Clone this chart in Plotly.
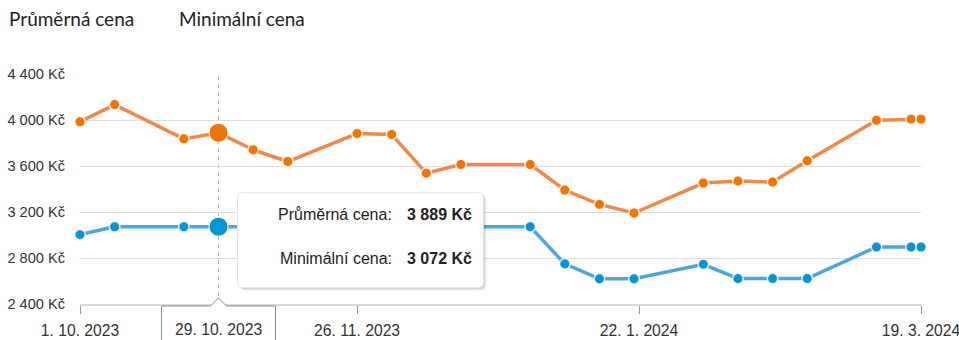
import plotly.graph_objects as go
from datetime import date

# Weekly price observations
dates = ["2023-10-01", "2023-10-08", "2023-10-22", "2023-10-29", "2023-11-05",
         "2023-11-12", "2023-11-26", "2023-12-03", "2023-12-10", "2023-12-17",
         "2023-12-31", "2024-01-07", "2024-01-14", "2024-01-21", "2024-02-04",
         "2024-02-11", "2024-02-18", "2024-02-25", "2024-03-10", "2024-03-17",
         "2024-03-19"]
avg_price = [3985, 4134, 3836, 3889, 3741, 3639, 3882, 3873, 3538, 3613, 3613,
             3391, 3266, 3191, 3452, 3469, 3460, 3645, 3998, 4007, 4007]
min_price = [3003, 3072, 3072, 3072, 3072, 3072, 3072, 3072, 3072, 3072, 3072,
             2749, 2619, 2619, 2745, 2621, 2621, 2621, 2896, 2896, 2896]

series_names = ["Průměrná cena", "Minimální cena"]

x_tickvals = ["2023-10-01", "2023-11-26", "2024-01-22", "2024-03-19"]
x_ticktext = ["1. 10. 2023", "26. 11. 2023", "22. 1. 2024", "19. 3. 2024"]
y_tickvals = [2400, 2800, 3200, 3600, 4000, 4400]
y_ticktext = ["2 400 Kč", "2 800 Kč", "3 200 Kč", "3 600 Kč", "4 000 Kč", "4 400 Kč"]

hover_date = "2023-10-29"

ORANGE_LINE, ORANGE_MARK = "#F0884A", "#F07400"
BLUE_LINE, BLUE_MARK = "#4DA6DA", "#0096D6"
SANS = "Arial, Liberation Sans, sans-serif"


def fmt_czk(v):
    return f"{v:,}".replace(",", " ") + " Kč"


def fmt_date(s):
    d = date.fromisoformat(s)
    return f"{d.day}. {d.month}. {d.year}"


def rounded_rect(x0, y0, x1, y1, r):
    # y grows upward in pixel-sized shapes
    return (f"M {x0 + r},{y1} L {x1 - r},{y1} Q {x1},{y1} {x1},{y1 - r} "
            f"L {x1},{y0 + r} Q {x1},{y0} {x1 - r},{y0} L {x0 + r},{y0} "
            f"Q {x0},{y0} {x0},{y0 + r} L {x0},{y1 - r} Q {x0},{y1} {x0 + r},{y1} Z")


fig = go.Figure()

for vals, name, lc, mc in [(avg_price, series_names[0], ORANGE_LINE, ORANGE_MARK),
                           (min_price, series_names[1], BLUE_LINE, BLUE_MARK)]:
    fig.add_trace(go.Scatter(
        x=dates, y=vals, name=name, mode="lines+markers",
        line=dict(color=lc, width=3.5),
        marker=dict(color=mc, size=10.5, line=dict(color="rgba(255,245,235,0.9)", width=1.5)),
        cliponaxis=False, showlegend=False, hoverinfo="skip",
    ))

# Highlighted points on the hovered date
hi = dates.index(hover_date)
for vals, mc in [(avg_price, ORANGE_MARK), (min_price, BLUE_MARK)]:
    fig.add_trace(go.Scatter(
        x=[dates[hi]], y=[vals[hi]], mode="markers",
        marker=dict(color=mc, size=19, line=dict(color="white", width=1)),
        cliponaxis=False, showlegend=False, hoverinfo="skip",
    ))

shapes = [
    # crosshair
    dict(type="line", xref="x", yref="paper", x0=hover_date, x1=hover_date, y0=0, y1=1,
         line=dict(color="#BDBDBD", width=1, dash="4px,4px"), layer="below"),
]
# tooltip shadow + box, anchored at the hovered point
for off, alpha in [(3, 0.05), (2, 0.07), (1, 0.10)]:
    shapes.append(dict(type="path", xref="x", yref="y", xsizemode="pixel", ysizemode="pixel",
                       xanchor=hover_date, yanchor=min_price[hi],
                       path=rounded_rect(19 + off, -61 - off, 265 + off, 34 - off, 5),
                       fillcolor=f"rgba(0,0,0,{alpha})", line=dict(width=0), layer="above"))
shapes.append(dict(type="path", xref="x", yref="y", xsizemode="pixel", ysizemode="pixel",
                   xanchor=hover_date, yanchor=min_price[hi],
                   path=rounded_rect(19, -61, 265, 34, 5),
                   fillcolor="white", line=dict(color="#E3E3E3", width=1), layer="above"))
# date flag on the x axis
shapes.append(dict(type="path", xref="x", yref="paper", xsizemode="pixel", ysizemode="pixel",
                   xanchor=hover_date, yanchor=0,
                   path="M -57,-50 L -57,-2 L -8,-2 L 0,6 L 8,-2 L 57,-2 L 57,-50 Z",
                   fillcolor="white", line=dict(color="#8C8C8C", width=1), layer="above"))

annotations = [
    dict(xref="paper", yref="paper", x=0, y=1, xanchor="left", yanchor="middle",
         xshift=-73, yshift=56, text=series_names[0], showarrow=False,
         font=dict(family="Lato", size=19, color="#222")),
    dict(xref="paper", yref="paper", x=0, y=1, xanchor="left", yanchor="middle",
         xshift=97, yshift=56, text=series_names[1], showarrow=False,
         font=dict(family="Lato", size=19, color="#222")),
    dict(xref="x", yref="paper", x=hover_date, y=0, xanchor="center", yanchor="middle",
         yshift=-25, text=fmt_date(hover_date), showarrow=False,
         font=dict(family=SANS, size=15.7, color="#333")),
]
for row, (name, vals) in enumerate([(series_names[0], avg_price), (series_names[1], min_price)]):
    ys = 12 - 44 * row
    annotations.append(dict(xref="x", yref="y", x=hover_date, y=min_price[hi],
                            xanchor="right", yanchor="middle", xshift=175, yshift=ys,
                            text=name + ":", showarrow=False,
                            font=dict(family=SANS, size=16, color="#222")))
    annotations.append(dict(xref="x", yref="y", x=hover_date, y=min_price[hi],
                            xanchor="left", yanchor="middle", xshift=186, yshift=ys,
                            text="<b>" + fmt_czk(vals[hi]) + "</b>", showarrow=False,
                            font=dict(family=SANS, size=16, color="#222")))

fig.update_layout(
    width=959, height=340, autosize=False,
    margin=dict(l=80, r=38, t=74, b=36, pad=0),
    paper_bgcolor="white", plot_bgcolor="white",
    shapes=shapes, annotations=annotations,
    xaxis=dict(type="date", range=[dates[0], dates[-1]],
               tickvals=x_tickvals, ticktext=x_ticktext,
               showgrid=False, zeroline=False, automargin=False,
               showline=True, linecolor="#DADADA", linewidth=2,
               ticks="outside", ticklen=8, tickcolor="#999", tickwidth=1,
               ticklabelstandoff=3, ticklabeloverflow="allow",
               tickfont=dict(family=SANS, size=15.7, color="#333")),
    yaxis=dict(range=[2400, 4400], tickvals=y_tickvals, ticktext=y_ticktext,
               showgrid=True, gridcolor="#DEDEDE", gridwidth=1,
               zeroline=False, showline=False, ticks="", automargin=False,
               ticklabelstandoff=14,
               tickfont=dict(family=SANS, size=14.6, color="#333")),
)

fig.write_html("out.html")
